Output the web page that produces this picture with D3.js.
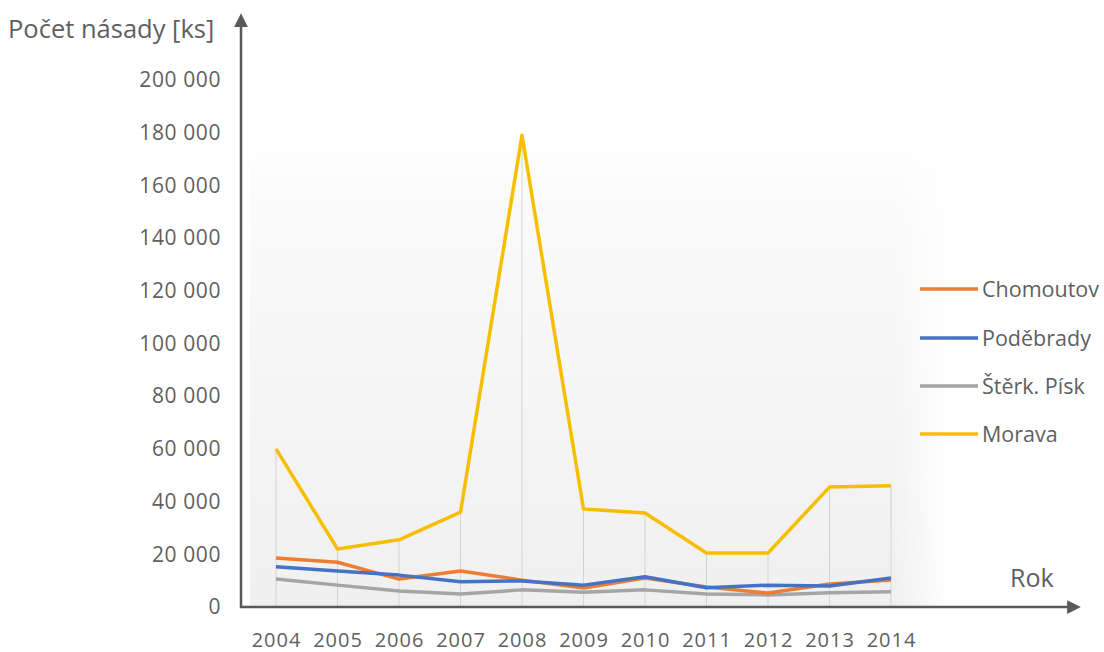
<!DOCTYPE html>
<html><head><meta charset="utf-8">
<script src="https://cdn.jsdelivr.net/npm/d3@7"></script>
<style>body{margin:0;background:#fff;} svg{display:block;font-family:"Open Sans", sans-serif;}</style>
</head><body>
<svg id="c" width="1104" height="652"></svg>
<script>
const years = [2004,2005,2006,2007,2008,2009,2010,2011,2012,2013,2014];
const chomoutov = [18600,17000,10600,13700,10200,7200,11000,7600,5300,8700,10200];
const podebrady = [15300,13700,12100,9600,9900,8300,11500,7300,8300,8000,11000];
const sterk = [10600,8300,6100,4900,6500,5600,6500,4900,4600,5400,5800];
const morava = [60000,22000,25500,36000,179000,37200,35700,20500,20500,45500,46000];
const seriesNames = ["Chomoutov","Poděbrady","Štěrk. Písk","Morava"];
const seriesColors = ["#ED7D31","#4472C4","#A5A5A5","#F7BE00"];
const yTicks = [0,20000,40000,60000,80000,100000,120000,140000,160000,180000,200000];

const svg = d3.select("#c");
const x = d3.scalePoint().domain(years).range([276, 891]);
const y = d3.scaleLinear().domain([0,200000]).range([607, 80]);
const txt = "#5f5f5f";

const defs = svg.append("defs");
const g = defs.append("linearGradient").attr("id","bg").attr("x1",0).attr("y1",0).attr("x2",0).attr("y2",1);
g.append("stop").attr("offset","0").attr("stop-color","#ffffff");
g.append("stop").attr("offset","0.15").attr("stop-color","#fafafa");
g.append("stop").attr("offset","1").attr("stop-color","#f0f0f0");
const gh = defs.append("linearGradient").attr("id","bgh").attr("x1",0).attr("y1",0).attr("x2",1).attr("y2",0);
gh.append("stop").attr("offset","0").attr("stop-color","#fff").attr("stop-opacity",0);
gh.append("stop").attr("offset","0.92").attr("stop-color","#fff").attr("stop-opacity",0);
gh.append("stop").attr("offset","1").attr("stop-color","#fff").attr("stop-opacity",1);
defs.append("marker").attr("id","arr").attr("viewBox","0 0 10 10").attr("refX",5).attr("refY",5)
  .attr("markerWidth",5.5).attr("markerHeight",5.5).attr("orient","auto-start-reverse")
  .append("path").attr("d","M0,0 L10,5 L0,10 z").attr("fill","#595959");

svg.append("rect").attr("x",250).attr("y",140).attr("width",700).attr("height",467).attr("fill","url(#bg)");
svg.append("rect").attr("x",250).attr("y",140).attr("width",700).attr("height",467).attr("fill","url(#bgh)");

// drop lines from Morava (top series)
svg.append("g").selectAll("line").data(years).join("line")
  .attr("x1", d=>x(d)).attr("x2", d=>x(d))
  .attr("y1", (d,i)=>y(morava[i])).attr("y2", y(0))
  .attr("stroke","#d4d4d4").attr("stroke-width",1);

// y axis tick labels
const yAxis = d3.axisLeft(y).tickValues(yTicks).tickSize(0).tickPadding(0)
  .tickFormat(d => d3.format(",")(d).replace(/,/g, " "));
const ya = svg.append("g").attr("transform","translate(221,0)").call(yAxis);
ya.select(".domain").remove();
ya.selectAll("text").attr("font-size",21).attr("fill",txt).attr("letter-spacing","0.6px")
  .attr("font-family","'Open Sans', sans-serif");

// x axis labels
const xAxis = d3.axisBottom(x).tickSize(0).tickPadding(0).tickFormat(d3.format("d"));
const xa = svg.append("g").attr("transform","translate(0,647)").call(xAxis);
xa.select(".domain").remove();
xa.selectAll("text").attr("font-size",20).attr("fill",txt).attr("dy","0").attr("letter-spacing","1px")
  .attr("font-family","'Open Sans', sans-serif");

// lines
const allSeries = [chomoutov, podebrady, sterk, morava];
const line = d3.line().x((d,i)=>x(years[i])).y(d=>y(d));
const drawOrder = [3,2,0,1];
drawOrder.forEach(k => {
  svg.append("path").datum(allSeries[k]).attr("d", line)
    .attr("fill","none").attr("stroke", seriesColors[k]).attr("stroke-width",3.5)
    .attr("stroke-linejoin","round");
});

// axes arrows
svg.append("line").attr("x1",241).attr("y1",608).attr("x2",241).attr("y2",20)
  .attr("stroke","#595959").attr("stroke-width",2.5).attr("marker-end","url(#arr)");
svg.append("line").attr("x1",240).attr("y1",607).attr("x2",1074).attr("y2",607)
  .attr("stroke","#595959").attr("stroke-width",2.5).attr("marker-end","url(#arr)");

// axis titles
svg.append("text").attr("x",8).attr("y",38).text("Počet násady [ks]")
  .attr("font-size",25.5).attr("fill",txt);
svg.append("text").attr("x",1010).attr("y",587).text("Rok")
  .attr("font-size",25).attr("fill",txt);

// legend
const legY = [289,338,386,434];
const leg = svg.append("g").selectAll("g").data(seriesNames).join("g")
  .attr("transform",(d,i)=>`translate(0,${legY[i]})`);
leg.append("line").attr("x1",920).attr("x2",978).attr("y1",0).attr("y2",0)
  .attr("stroke",(d,i)=>seriesColors[i]).attr("stroke-width",3.5);
leg.append("text").attr("x",982).attr("y",0).attr("dy","0.36em").text(d=>d)
  .attr("font-size",21.5).attr("fill",txt);
</script>
</body></html>
